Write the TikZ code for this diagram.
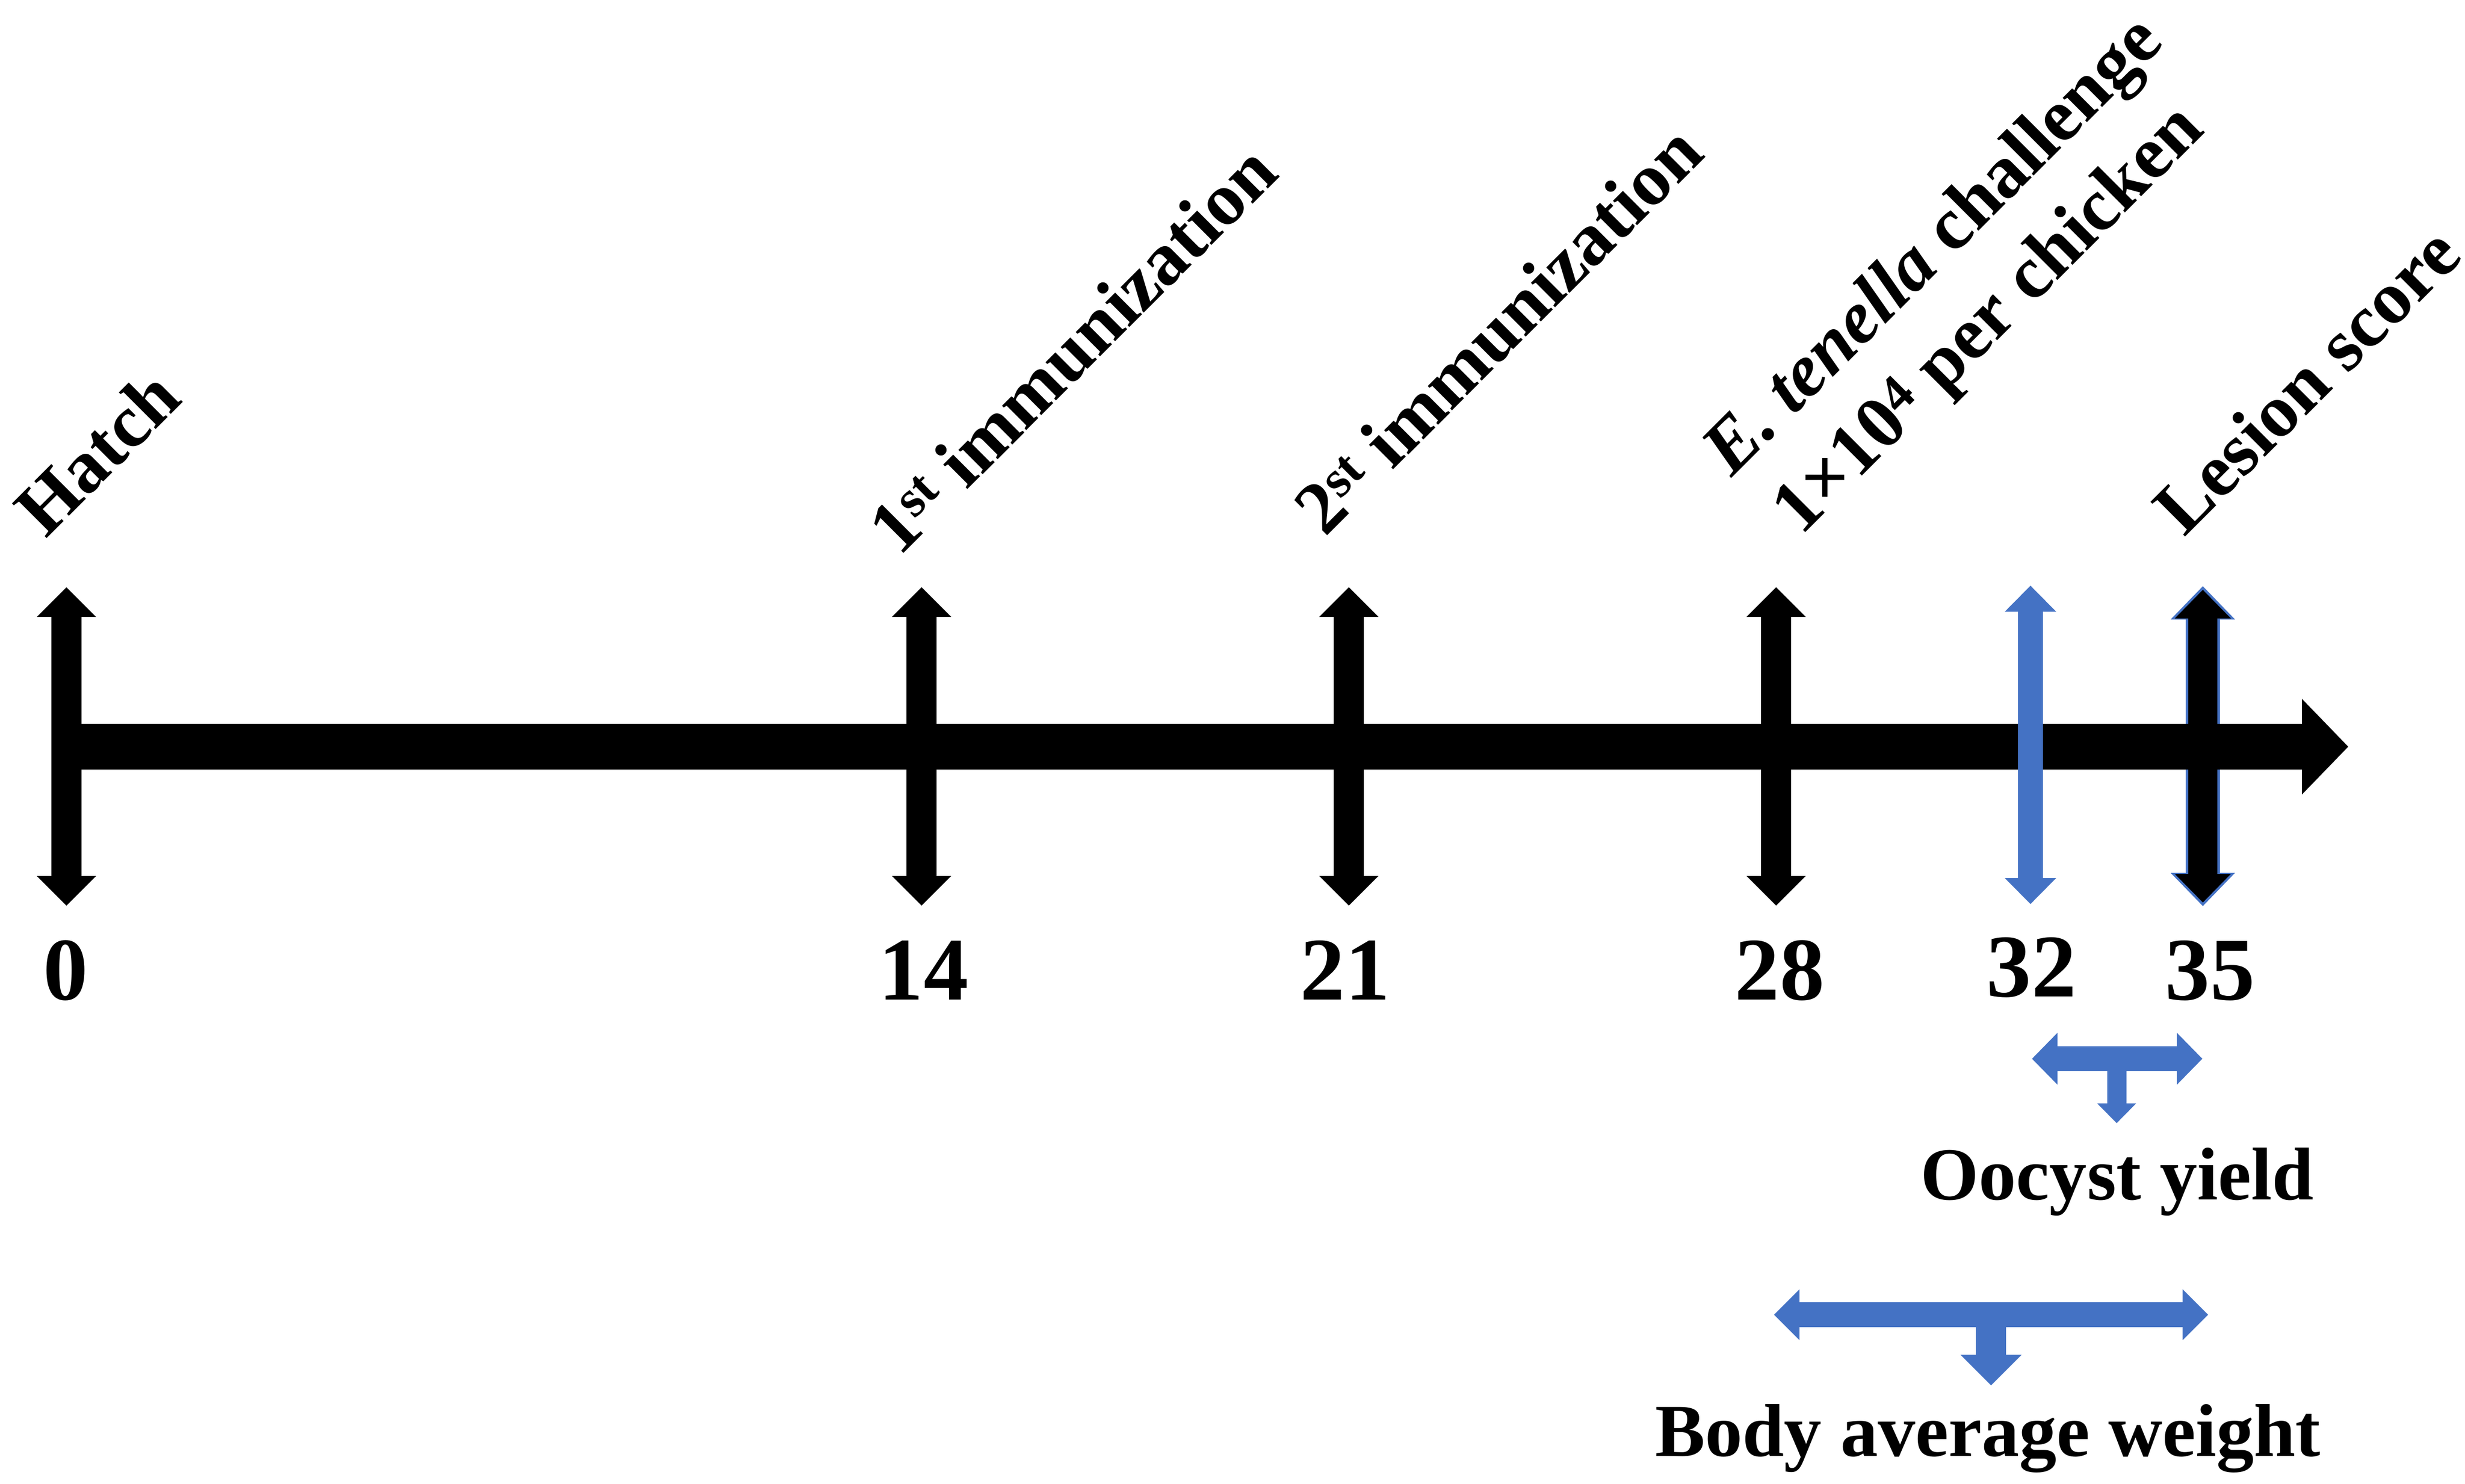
\documentclass[tikz,border=0pt]{standalone}
\usepackage{fontspec}
\setmainfont{Liberation Serif}
\usetikzlibrary{arrows.meta}

\definecolor{tlblue}{HTML}{4472C4}

\tikzset{
  lbl/.style={font=\fontsize{41}{49}\selectfont\bfseries},
  daylbl/.style={font=\fontsize{49}{59}\selectfont\bfseries, anchor=base},
  toplbl/.style={lbl, rotate=45, anchor=base west},
  tick/.style={line width=0.58cm,
    {Triangle[width=1.14cm,length=0.57cm,line width=0pt]}-{Triangle[width=1.14cm,length=0.57cm,line width=0pt]}},
  bluetick/.style={tlblue, line width=0.48cm,
    {Triangle[width=0.99cm,length=0.50cm,line width=0pt]}-{Triangle[width=0.99cm,length=0.50cm,line width=0pt]}},
  span/.style={tlblue, line width=0.48cm,
    {Triangle[width=1.0cm,length=0.49cm,line width=0pt]}-{Triangle[width=1.0cm,length=0.49cm,line width=0pt]}}
}

\begin{document}
\begin{tikzpicture}
		\tikzstyle{every node}+=[inner sep=0pt]
		\useasboundingbox (0,0) rectangle (47.48,-28.58);
		% day marks on the time line
		\coordinate (t0top) at (1.28,-11.31);
		\coordinate (t0bot) at (1.28,-17.44);
		\coordinate (t14top) at (17.75,-11.31);
		\coordinate (t14bot) at (17.75,-17.44);
		\coordinate (t21top) at (25.98,-11.31);
		\coordinate (t21bot) at (25.98,-17.44);
		\coordinate (t28top) at (34.21,-11.31);
		\coordinate (t28bot) at (34.21,-17.44);
		\coordinate (t32top) at (39.11,-11.28);
		\coordinate (t32bot) at (39.11,-17.41);
		\coordinate (t35top) at (42.43,-11.29);
		\coordinate (t35bot) at (42.43,-17.45);
		\coordinate (t35in) at (42.43,-11.36);
		\coordinate (t35inb) at (42.43,-17.38);
		\draw [tick] (t0top) -- (t0bot);
		\draw [tick] (t14top) -- (t14bot);
		\draw [tick] (t21top) -- (t21bot);
		\draw [tick] (t28top) -- (t28bot);
		\draw [tlblue, line width=0.66cm,
		  {Triangle[width=1.24cm,length=0.64cm,line width=0pt]}-{Triangle[width=1.24cm,length=0.64cm,line width=0pt]}] (t35top) -- (t35bot);
		\draw [line width=0.56cm,
		  {Triangle[width=1.08cm,length=0.55cm,line width=0pt]}-{Triangle[width=1.08cm,length=0.55cm,line width=0pt]}] (t35in) -- (t35inb);
		% main axis
		\coordinate (axstart) at (1.28,-14.38);
		\coordinate (axend) at (45.23,-14.38);
		\draw [line width=0.88cm, -{Triangle[width=1.84cm,length=0.89cm,line width=0pt]}] (axstart) -- (axend);
		\draw [bluetick] (t32top) -- (t32bot);
		% day numbers
		\node [daylbl] (d0) at (1.27,-19.25) {0};
		\node [daylbl] (d14) at (17.79,-19.25) {14};
		\node [daylbl] (d21) at (25.91,-19.25) {21};
		\node [daylbl] (d28) at (34.28,-19.25) {28};
		\node [daylbl] (d32) at (39.13,-19.19) {32};
		\node [daylbl] (d35) at (42.57,-19.25) {35};
		% events
		\node [toplbl] (hatch) at (0.88,-10.39) {Hatch};
		\node [toplbl] (imm1) at (17.32,-10.74) {1\textsuperscript{st} immunization};
		\node [toplbl] (imm2) at (25.52,-10.36) {2\textsuperscript{st} immunization};
		\node [toplbl] (chal) at (33.35,-9.21) {\textit{E. tenella} challenge};
		\node [toplbl] (dose) at (34.69,-10.34) {1×10\textsuperscript{4} per chicken};
		\node [toplbl] (lesion) at (42.07,-10.36) {Lesion score};
		% sampling windows
		\coordinate (ooL) at (39.14,-20.39);
		\coordinate (ooR) at (42.42,-20.39);
		\coordinate (ooM) at (40.77,-20.39);
		\coordinate (ooTip) at (40.77,-21.63);
		\draw [span] (ooL) -- (ooR);
		\draw [tlblue, line width=0.37cm, -{Triangle[width=0.75cm,length=0.38cm,line width=0pt]}] (ooM) -- (ooTip);
		\node [lbl, anchor=base] (oocyst) at (40.78,-23.10) {Oocyst yield};
		\coordinate (bwL) at (34.17,-25.32);
		\coordinate (bwR) at (42.53,-25.32);
		\coordinate (bwM) at (38.35,-25.32);
		\coordinate (bwTip) at (38.35,-26.68);
		\draw [span, {Triangle[width=0.98cm,length=0.49cm,line width=0pt]}-{Triangle[width=0.98cm,length=0.49cm,line width=0pt]}] (bwL) -- (bwR);
		\draw [tlblue, line width=0.58cm, -{Triangle[width=1.18cm,length=0.59cm,line width=0pt]}] (bwM) -- (bwTip);
		\node [lbl, anchor=base] (bw) at (38.29,-28.04) {Body average weight};
\end{tikzpicture}
\end{document}
